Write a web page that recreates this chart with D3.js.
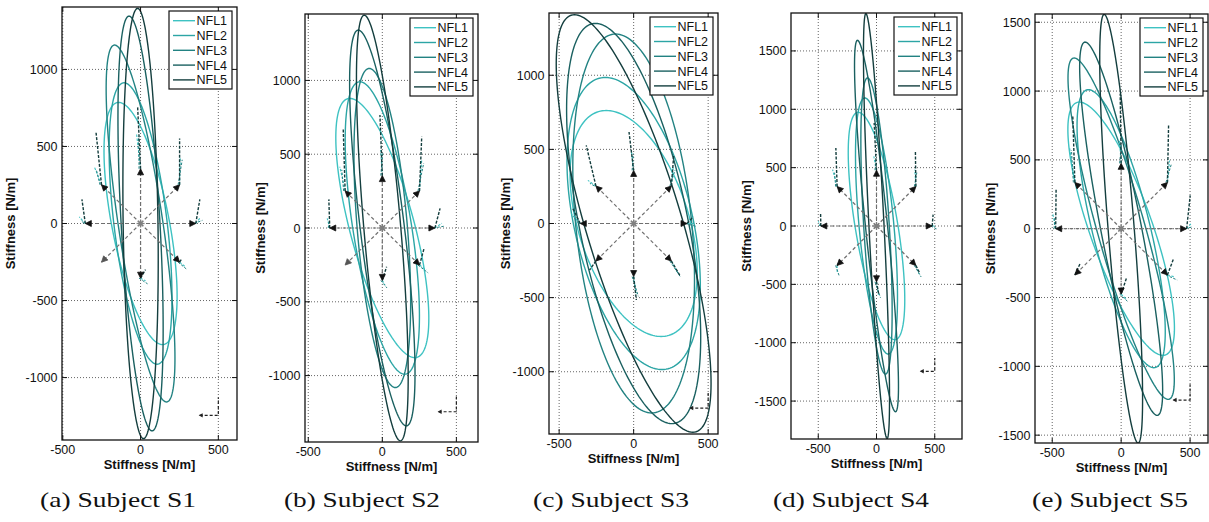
<!DOCTYPE html>
<html><head><meta charset="utf-8">
<script src="https://cdn.jsdelivr.net/npm/d3@7"></script>
<style>body{margin:0;background:#fff}svg{display:block}</style>
</head><body>
<svg id="chart" width="1209" height="522"></svg>
<script>
// ---------- data ----------
const series = ["NFL1", "NFL2", "NFL3", "NFL4", "NFL5"];
const captions = ["(a) Subject S1", "(b) Subject S2", "(c) Subject S3", "(d) Subject S4", "(e) Subject S5"];
const xTickVals = [-500, 0, 500];
const yTickSmall = [-1000, -500, 0, 500, 1000];
const yTickLarge = [-1500, -1000, -500, 0, 500, 1000, 1500];
const xLimits = [[-505, 620], [-522, 646], [-568, 566], [-734, 734], [-625, 630]];
const yLimits = [[-1405, 1405], [-1450, 1450], [-1420, 1420], [-1825, 1825], [-1557, 1560]];

// stiffness ellipses: top point (x,y) and x-axis crossing for NFL1..NFL5
const s1TopX = [-141, -106, -167, -74, -19];
const s1TopY = [786, 913, 1158, 1346, 1396];
const s1Cross = [188, 172, 145, 125, 112];
const s2TopX = [-219, -151, -88, -162, -122];
const s2TopY = [878, 991, 1081, 1341, 1442];
const s2Cross = [225, 200, 170, 150, 125];
const s3TopX = [-184, -190, -121, -256, -397];
const s3TopY = [762, 985, 1278, 1350, 1408];
const s3Cross = [385, 405, 390, 370, 335];
const s4TopX = [-157, -100, -77, -163, -91];
const s4TopY = [974, 1097, 1269, 1591, 1820];
const s4Cross = [185, 150, 110, 95, 65];
const s5TopX = [-303, -237, -341, -261, -123];
const s5TopY = [920, 1010, 1240, 1356, 1557];
const s5Cross = [240, 215, 180, 150, 95];

// perturbation spokes (8 directions) and force traces at their ends
const spokeAngles = [0, 45, 90, 135, 180, 225, 270, 315];
const spokeRadius = [355, 355, 358, 478, 475];
const s1DarkEnds = [[381,156],[251,552],[-19,762],[-286,589],[-377,156],null,[32,-299],[266,-227]];
const s1LightEnds = [[385,40],[255,433],[-26,584],[-297,368],[-394,43],null,[32,-372],[288,-281]];
const s2DarkEnds = [[390,133],[266,618],[-16,765],[-264,675],[-361,194],null,[29,-262],[282,-138]];
const s2LightEnds = [[402,32],[266,460],[-11,528],[-287,415],[-372,65],null,[18,-386],[296,-284]];
const s3DarkEnds = [[399,45],[269,460],[-31,617],[-318,527],[-408,101],[-296,-314],[18,-516],[309,-348]];
const s3LightEnds = [[410,0],[265,381],[-16,493],[-307,291],[-419,67],null,[18,-471],[298,-336]];
const s4DarkEnds = [[486,97],[334,640],[-20,883],[-349,669],[-480,111],[-320,-303],[20,-589],[371,-403]];
const s4LightEnds = [[500,0],[329,483],[-23,597],[-377,483],[-500,40],[-337,-403],[17,-589],[366,-411]];
const s5DarkEnds = [[501,242],[344,751],[-7,981],[-351,823],[-472,283],[-298,-254],[41,-351],[380,-218]];
const s5LightEnds = [[506,36],[351,496],[-12,642],[-375,593],[-496,109],null,[34,-508],[392,-351]];

// force scale marker (corner x, corner y, horizontal end x, vertical end y)
const scaleMarker = [500, -1245, 380, -1130];

// ---------- styling / layout ----------
const colors = ["#3ec2c2", "#2ca5a5", "#228282", "#1a6060", "#143e3e"];
const boxes = [
  {l: 62, r: 237, t: 7, b: 440, ylab: 10, cap: 118},
  {l: 305, r: 478, t: 14, b: 442, ylab: 260, cap: 362},
  {l: 549, r: 718, t: 13, b: 434, ylab: 505, cap: 611},
  {l: 791, r: 962, t: 13, b: 439, ylab: 746, cap: 851},
  {l: 1035, r: 1208, t: 14, b: 443, ylab: 990, cap: 1110}
];
const ellipseData = [
  [s1TopX, s1TopY, s1Cross], [s2TopX, s2TopY, s2Cross], [s3TopX, s3TopY, s3Cross],
  [s4TopX, s4TopY, s4Cross], [s5TopX, s5TopY, s5Cross]
];
const traceData = [
  [s1DarkEnds, s1LightEnds], [s2DarkEnds, s2LightEnds], [s3DarkEnds, s3LightEnds],
  [s4DarkEnds, s4LightEnds], [s5DarkEnds, s5LightEnds]
];
const yTicksPer = [yTickSmall, yTickSmall, yTickSmall, yTickLarge, yTickLarge];

const svg = d3.select("#chart");
const FONT = "'Liberation Sans', Arial, Helvetica, sans-serif";

boxes.forEach((bx, p) => {
  const x = d3.scaleLinear().domain(xLimits[p]).range([bx.l, bx.r]);
  const y = d3.scaleLinear().domain(yLimits[p]).range([bx.b, bx.t]);
  const g = svg.append("g");
  const clipId = "clip" + p;
  g.append("clipPath").attr("id", clipId).append("rect")
    .attr("x", bx.l).attr("y", bx.t).attr("width", bx.r - bx.l).attr("height", bx.b - bx.t);

  // grid
  const grid = g.append("g").attr("stroke", "#2a2a2a").attr("stroke-width", 0.9)
    .attr("stroke-dasharray", "1,2").attr("opacity", 0.8);
  xTickVals.forEach(v => grid.append("line").attr("x1", x(v)).attr("x2", x(v)).attr("y1", bx.t).attr("y2", bx.b));
  yTicksPer[p].forEach(v => grid.append("line").attr("x1", bx.l).attr("x2", bx.r).attr("y1", y(v)).attr("y2", y(v)));

  const plot = g.append("g").attr("clip-path", `url(#${clipId})`);

  // ellipses
  const [tx, ty, cr] = ellipseData[p];
  const line = d3.line().x(d => x(d[0])).y(d => y(d[1])).curve(d3.curveLinearClosed);
  series.forEach((s, i) => {
    const pts = d3.range(0, 360, 2).map(deg => {
      const t = deg * Math.PI / 180;
      return [tx[i] * Math.cos(t) + cr[i] * Math.sin(t), ty[i] * Math.cos(t)];
    });
    plot.append("path").attr("d", line(pts)).attr("fill", "none")
      .attr("stroke", colors[i]).attr("stroke-width", 1.4);
  });

  // spokes
  const R = spokeRadius[p];
  const [darkEnds, lightEnds] = traceData[p];
  spokeAngles.forEach((a, k) => {
    const rad = a * Math.PI / 180;
    const tip = [R * Math.cos(rad), R * Math.sin(rad)];
    plot.append("line").attr("x1", x(0)).attr("y1", y(0)).attr("x2", x(tip[0])).attr("y2", y(tip[1]))
      .attr("stroke", "#707070").attr("stroke-width", 1.2).attr("stroke-dasharray", "3.5,2.5");
    if (lightEnds[k]) {
      plot.append("line").attr("x1", x(tip[0])).attr("y1", y(tip[1]))
        .attr("x2", x(lightEnds[k][0])).attr("y2", y(lightEnds[k][1]))
        .attr("stroke", colors[0]).attr("stroke-width", 1.1).attr("stroke-dasharray", "2.5,1.5");
      plot.append("line").attr("x1", x(tip[0]) - 1.5).attr("y1", y(tip[1]))
        .attr("x2", x(lightEnds[k][0]) + 2).attr("y2", y(lightEnds[k][1]) + 3)
        .attr("stroke", colors[2]).attr("stroke-width", 1).attr("stroke-dasharray", "2.5,1.5");
    }
    if (darkEnds[k]) {
      plot.append("line").attr("x1", x(tip[0])).attr("y1", y(tip[1]))
        .attr("x2", x(darkEnds[k][0])).attr("y2", y(darkEnds[k][1]))
        .attr("stroke", colors[4]).attr("stroke-width", 1.4).attr("stroke-dasharray", "3,1.5");
    }
    // arrowhead at tip, pointing outward
    const px = x(tip[0]), py = y(tip[1]);
    const ang = -rad;
    const L = 6, W = 3;
    const pA = [px, py];
    const pB = [px - L * Math.cos(ang) - W * Math.sin(ang), py - L * Math.sin(ang) + W * Math.cos(ang)];
    const pC = [px - L * Math.cos(ang) + W * Math.sin(ang), py - L * Math.sin(ang) - W * Math.cos(ang)];
    plot.append("path").attr("d", `M${pA}L${pB}L${pC}Z`)
      .attr("fill", darkEnds[k] ? "#111" : "#555").attr("stroke", darkEnds[k] ? "#111" : "#555").attr("stroke-width", 0.8);
  });
  // origin marker
  const ox = x(0), oy = y(0);
  [0, 45, 90, 135].forEach(a => {
    const r = a * Math.PI / 180;
    plot.append("line").attr("x1", ox - 4 * Math.cos(r)).attr("y1", oy - 4 * Math.sin(r))
      .attr("x2", ox + 4 * Math.cos(r)).attr("y2", oy + 4 * Math.sin(r))
      .attr("stroke", "#808080").attr("stroke-width", 1.3);
  });

  // scale marker
  const [cx0, cy0, hx, vy] = scaleMarker;
  plot.append("path").attr("d", `M${x(hx)},${y(cy0)}L${x(cx0)},${y(cy0)}L${x(cx0)},${y(vy)}`)
    .attr("fill", "none").attr("stroke", "#222").attr("stroke-width", 1.2).attr("stroke-dasharray", "3,2");
  plot.append("path").attr("d", `M${x(hx) - 1},${y(cy0)}l4,-2.2l0,4.4z`).attr("fill", "#222");

  // ticks (inside, all four sides)
  const tk = g.append("g").attr("stroke", "#111").attr("stroke-width", 1);
  xTickVals.forEach(v => {
    tk.append("line").attr("x1", x(v)).attr("x2", x(v)).attr("y1", bx.b).attr("y2", bx.b - 5);
    tk.append("line").attr("x1", x(v)).attr("x2", x(v)).attr("y1", bx.t).attr("y2", bx.t + 5);
  });
  yTicksPer[p].forEach(v => {
    tk.append("line").attr("x1", bx.l).attr("x2", bx.l + 5).attr("y1", y(v)).attr("y2", y(v));
    tk.append("line").attr("x1", bx.r).attr("x2", bx.r - 5).attr("y1", y(v)).attr("y2", y(v));
  });

  // frame
  g.append("rect").attr("x", bx.l).attr("y", bx.t).attr("width", bx.r - bx.l).attr("height", bx.b - bx.t)
    .attr("fill", "none").attr("stroke", "#111").attr("stroke-width", 1.3);

  // tick labels
  xTickVals.forEach(v => g.append("text").attr("x", x(v)).attr("y", bx.b + 14)
    .attr("text-anchor", "middle").attr("font-family", FONT).attr("font-size", 12.5).attr("fill", "#111").text(v));
  yTicksPer[p].forEach(v => g.append("text").attr("x", bx.l - 4.5).attr("y", y(v) + 4.5)
    .attr("text-anchor", "end").attr("font-family", FONT).attr("font-size", 12.5).attr("fill", "#111").text(v));

  // axis labels
  g.append("text").attr("x", (bx.l + bx.r) / 2).attr("y", bx.b + 29).attr("text-anchor", "middle")
    .attr("font-family", FONT).attr("font-weight", "bold").attr("font-size", 13).attr("fill", "#111")
    .text("Stiffness [N/m]");
  g.append("text").attr("transform", `translate(${bx.ylab + 4.5},${(bx.t + bx.b) / 2}) rotate(-90)`)
    .attr("text-anchor", "middle").attr("font-family", FONT).attr("font-weight", "bold")
    .attr("font-size", 13).attr("fill", "#111").text("Stiffness [N/m]");

  // legend
  const lw = 63, lh = 78;
  const lx = bx.r - lw - 5, ly = bx.t + 4;
  const lg = g.append("g");
  lg.append("rect").attr("x", lx).attr("y", ly).attr("width", lw).attr("height", lh)
    .attr("fill", "#fff").attr("stroke", "#111").attr("stroke-width", 1.2);
  series.forEach((s, i) => {
    const yy = ly + 9.7 + i * 14.8;
    lg.append("line").attr("x1", lx + 4).attr("x2", lx + 26).attr("y1", yy).attr("y2", yy)
      .attr("stroke", colors[i]).attr("stroke-width", 1.4);
    lg.append("text").attr("x", lx + 27.5).attr("y", yy + 4.5).attr("font-family", FONT)
      .attr("font-size", 12.5).attr("fill", "#111").text(s);
  });

  // caption
  svg.append("text").attr("x", bx.cap).attr("y", 507).attr("text-anchor", "middle")
    .attr("font-family", "'Liberation Serif', 'DejaVu Serif', serif").attr("font-size", 22)
    .attr("textLength", 156).attr("lengthAdjust", "spacingAndGlyphs")
    .attr("fill", "#111").text(captions[p]);
});
</script>
</body></html>
